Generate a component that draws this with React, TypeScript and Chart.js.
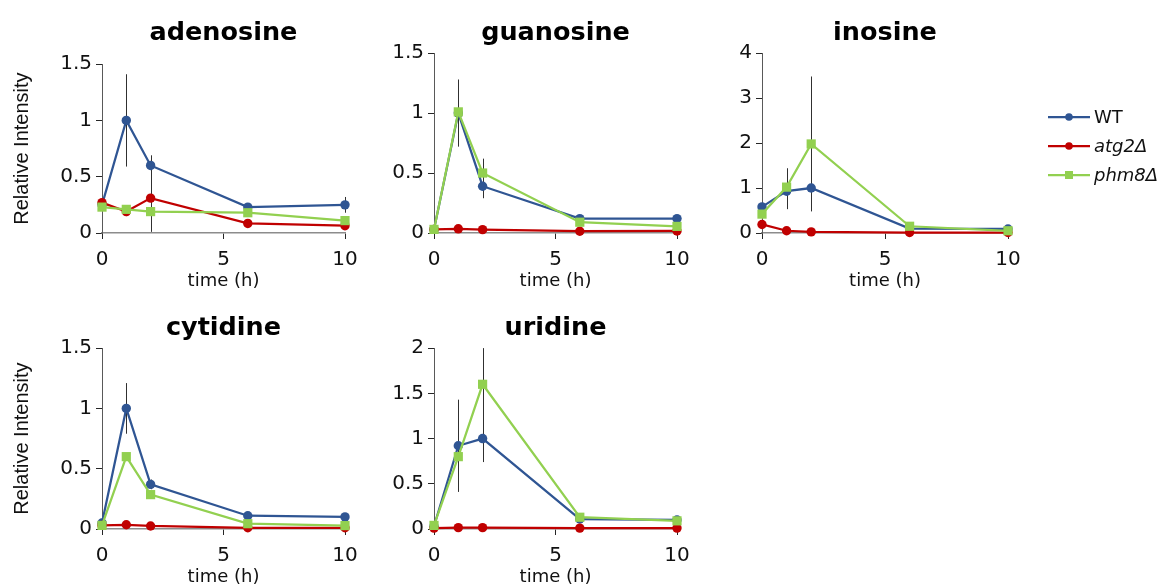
import React, { useEffect, useRef } from "react";
import { Chart, registerables } from "chart.js";

Chart.register(...registerables);

// ---------- data ----------
const TIME_H = [0, 1, 2, 6, 10];
const X_TICKS = [0, 5, 10];
const SERIES = ["WT", "atg2Δ", "phm8Δ"];

const ADENOSINE_WT = [0.25, 1.0, 0.6, 0.23, 0.25];
const ADENOSINE_WT_ERR = [0, 0.41, 0.09, 0, 0.07];
const ADENOSINE_ATG2 = [0.27, 0.19, 0.31, 0.085, 0.065];
const ADENOSINE_ATG2_ERR = [0, 0.04, 0.3, 0.02, 0];
const ADENOSINE_PHM8 = [0.23, 0.21, 0.19, 0.18, 0.11];
const ADENOSINE_PHM8_ERR = [0, 0, 0, 0, 0];
const ADENOSINE_Y_TICKS = [0, 0.5, 1, 1.5];

const GUANOSINE_WT = [0.03, 1.0, 0.39, 0.12, 0.12];
const GUANOSINE_WT_ERR = [0, 0.28, 0.1, 0, 0];
const GUANOSINE_ATG2 = [0.03, 0.035, 0.028, 0.015, 0.017];
const GUANOSINE_ATG2_ERR = [0, 0, 0, 0, 0];
const GUANOSINE_PHM8 = [0.03, 1.01, 0.5, 0.09, 0.055];
const GUANOSINE_PHM8_ERR = [0, 0.1, 0.12, 0, 0];
const GUANOSINE_Y_TICKS = [0, 0.5, 1, 1.5];

const INOSINE_WT = [0.58, 0.93, 1.0, 0.1, 0.09];
const INOSINE_WT_ERR = [0, 0.4, 0.3, 0, 0];
const INOSINE_ATG2 = [0.19, 0.05, 0.025, 0.01, 0.01];
const INOSINE_ATG2_ERR = [0, 0, 0, 0, 0];
const INOSINE_PHM8 = [0.42, 1.02, 1.98, 0.15, 0.05];
const INOSINE_PHM8_ERR = [0, 0.42, 1.5, 0.03, 0];
const INOSINE_Y_TICKS = [0, 1, 2, 3, 4];

const CYTIDINE_WT = [0.05, 1.0, 0.37, 0.11, 0.1];
const CYTIDINE_WT_ERR = [0, 0.21, 0.04, 0, 0];
const CYTIDINE_ATG2 = [0.03, 0.035, 0.025, 0.01, 0.01];
const CYTIDINE_ATG2_ERR = [0, 0, 0, 0, 0];
const CYTIDINE_PHM8 = [0.03, 0.6, 0.285, 0.044, 0.028];
const CYTIDINE_PHM8_ERR = [0, 0, 0, 0, 0];
const CYTIDINE_Y_TICKS = [0, 0.5, 1, 1.5];

const URIDINE_WT = [0.03, 0.92, 1.0, 0.11, 0.1];
const URIDINE_WT_ERR = [0, 0.51, 0.26, 0, 0];
const URIDINE_ATG2 = [0.01, 0.015, 0.015, 0.01, 0.01];
const URIDINE_ATG2_ERR = [0, 0, 0, 0, 0];
const URIDINE_PHM8 = [0.04, 0.8, 1.6, 0.13, 0.09];
const URIDINE_PHM8_ERR = [0, 0, 0.4, 0, 0];
const URIDINE_Y_TICKS = [0, 0.5, 1, 1.5, 2];

// ---------- styles ----------
const COLORS = ["#2F5593", "#C00000", "#92D050"];
const POINT_STYLES = ["circle", "circle", "rect"];
const POINT_RADII = [4.7, 4.7, 6.5];
const ITALIC = [false, true, true];
const FONT = "'DejaVu Sans', sans-serif";

type Layout = {
  left: number; top: number; width: number; height: number;
  yWidth: number; xHeight: number; padRight: number;
  titleTop: number; titleBottom: number; xTitleBottom: number;
};

type Panel = {
  title: string;
  values: number[][];
  errors: number[][];
  yTicks: number[];
  yTitle: boolean;
  legend: boolean;
  layout: Layout;
};

const PANELS: Panel[] = [
  {
    title: "adenosine",
    values: [ADENOSINE_WT, ADENOSINE_ATG2, ADENOSINE_PHM8],
    errors: [ADENOSINE_WT_ERR, ADENOSINE_ATG2_ERR, ADENOSINE_PHM8_ERR],
    yTicks: ADENOSINE_Y_TICKS, yTitle: true, legend: false,
    layout: { left: 0, top: 0, width: 375, height: 293, yWidth: 102, xHeight: 60, padRight: 30, titleTop: 18, titleBottom: 15, xTitleBottom: 1 },
  },
  {
    title: "guanosine",
    values: [GUANOSINE_WT, GUANOSINE_ATG2, GUANOSINE_PHM8],
    errors: [GUANOSINE_WT_ERR, GUANOSINE_ATG2_ERR, GUANOSINE_PHM8_ERR],
    yTicks: GUANOSINE_Y_TICKS, yTitle: false, legend: false,
    layout: { left: 380, top: 0, width: 325, height: 293, yWidth: 54, xHeight: 60, padRight: 28, titleTop: 18, titleBottom: 4, xTitleBottom: 1 },
  },
  {
    title: "inosine",
    values: [INOSINE_WT, INOSINE_ATG2, INOSINE_PHM8],
    errors: [INOSINE_WT_ERR, INOSINE_ATG2_ERR, INOSINE_PHM8_ERR],
    yTicks: INOSINE_Y_TICKS, yTitle: false, legend: true,
    layout: { left: 710, top: 0, width: 454, height: 293, yWidth: 52, xHeight: 60, padRight: 156, titleTop: 18, titleBottom: 4, xTitleBottom: 1 },
  },
  {
    title: "cytidine",
    values: [CYTIDINE_WT, CYTIDINE_ATG2, CYTIDINE_PHM8],
    errors: [CYTIDINE_WT_ERR, CYTIDINE_ATG2_ERR, CYTIDINE_PHM8_ERR],
    yTicks: CYTIDINE_Y_TICKS, yTitle: true, legend: false,
    layout: { left: 0, top: 296, width: 375, height: 294, yWidth: 102, xHeight: 61, padRight: 30, titleTop: 17, titleBottom: 4, xTitleBottom: 2 },
  },
  {
    title: "uridine",
    values: [URIDINE_WT, URIDINE_ATG2, URIDINE_PHM8],
    errors: [URIDINE_WT_ERR, URIDINE_ATG2_ERR, URIDINE_PHM8_ERR],
    yTicks: URIDINE_Y_TICKS, yTitle: false, legend: false,
    layout: { left: 380, top: 296, width: 325, height: 294, yWidth: 54, xHeight: 61, padRight: 28, titleTop: 17, titleBottom: 4, xTitleBottom: 2 },
  },
];

// ---------- plugins ----------
const errorBarPlugin = {
  id: "errorBars",
  beforeDatasetsDraw(chart: any) {
    const { ctx } = chart;
    const xs = chart.scales.x;
    const ys = chart.scales.y;
    ctx.save();
    ctx.strokeStyle = "#303030";
    ctx.lineWidth = 1;
    chart.data.datasets.forEach((ds: any) => {
      const errs: number[] = ds.errors || [];
      ds.data.forEach((pt: any, i: number) => {
        const e = errs[i];
        if (!e) return;
        const px = Math.round(xs.getPixelForValue(pt.x)) + 0.5;
        ctx.beginPath();
        ctx.moveTo(px, ys.getPixelForValue(pt.y + e));
        ctx.lineTo(px, ys.getPixelForValue(Math.max(0, pt.y - e)));
        ctx.stroke();
      });
    });
    ctx.restore();
  },
};

const sideLegendPlugin = {
  id: "sideLegend",
  afterDraw(chart: any, _args: any, opts: any) {
    if (!opts || !opts.display) return;
    const { ctx } = chart;
    ctx.save();
    chart.data.datasets.forEach((ds: any, i: number) => {
      const cy = opts.y + i * opts.spacing;
      const x0 = opts.x;
      const x1 = opts.x + opts.lineLength;
      ctx.strokeStyle = ds.borderColor;
      ctx.lineWidth = ds.borderWidth;
      ctx.beginPath();
      ctx.moveTo(x0, cy);
      ctx.lineTo(x1, cy);
      ctx.stroke();
      ctx.fillStyle = ds.pointBackgroundColor;
      const mx = (x0 + x1) / 2;
      if (ds.pointStyle === "rect") {
        ctx.fillRect(mx - 4, cy - 4, 8, 8);
      } else {
        ctx.beginPath();
        ctx.arc(mx, cy, 3.8, 0, Math.PI * 2);
        ctx.fill();
      }
      ctx.fillStyle = "#111";
      ctx.font = `${ds.italic ? "italic " : ""}18px ${FONT}`;
      ctx.textBaseline = "middle";
      ctx.textAlign = "left";
      ctx.fillText(ds.label, x1 + 4, cy + 1);
    });
    ctx.restore();
  },
};

function PanelChart({ panel }: { panel: Panel }) {
  const ref = useRef<HTMLCanvasElement | null>(null);
  const L = panel.layout;

  useEffect(() => {
    if (!ref.current) return;
    const datasets = SERIES.map((name, i) => ({
      label: name,
      data: TIME_H.map((t, j) => ({ x: t, y: panel.values[i][j] })),
      errors: panel.errors[i],
      italic: ITALIC[i],
      borderColor: COLORS[i],
      backgroundColor: COLORS[i],
      pointBackgroundColor: COLORS[i],
      pointBorderColor: COLORS[i],
      pointBorderWidth: 0,
      pointStyle: POINT_STYLES[i],
      pointRadius: POINT_RADII[i],
      borderWidth: 2.25,
      order: 3 - i,
      tension: 0,
      clip: false,
    }));

    const yMax = panel.yTicks[panel.yTicks.length - 1];
    const chart = new Chart(ref.current, {
      type: "line",
      data: { datasets } as any,
      plugins: [errorBarPlugin, sideLegendPlugin] as any,
      options: {
        animation: false,
        responsive: false,
        devicePixelRatio: 1,
        events: [],
        layout: { padding: { left: 0, top: 0, bottom: 0, right: L.padRight } },
        plugins: {
          legend: { display: false },
          tooltip: { enabled: false },
          title: {
            display: true,
            text: panel.title,
            fullSize: false,
            color: "#000",
            font: { family: FONT, size: 25.5, weight: "bold", lineHeight: 1.22 },
            padding: { top: L.titleTop, bottom: L.titleBottom },
          },
          sideLegend: { display: panel.legend, x: 338, y: 117, spacing: 29, lineLength: 42 },
        } as any,
        scales: {
          x: {
            type: "linear",
            min: X_TICKS[0],
            max: X_TICKS[X_TICKS.length - 1],
            afterBuildTicks: (s: any) => { s.ticks = X_TICKS.map((v) => ({ value: v })); },
            afterFit: (s: any) => { s.height = L.xHeight; },
            grid: { display: true, drawOnChartArea: false, drawTicks: true, tickLength: 6, color: "#262626", lineWidth: 1 },
            border: { display: true, color: "#8C8C8C", width: 1.5 },
            ticks: {
              color: "#111",
              font: { family: FONT, size: 20 },
              padding: 9,
              maxRotation: 0,
              autoSkip: false,
              callback: (v: any) => String(v),
            },
            title: {
              display: true,
              text: "time (h)",
              color: "#111",
              font: { family: FONT, size: 18 },
              padding: { top: 0, bottom: L.xTitleBottom },
            },
          },
          y: {
            type: "linear",
            min: 0,
            max: yMax,
            afterBuildTicks: (s: any) => { s.ticks = panel.yTicks.map((v) => ({ value: v })); },
            afterFit: (s: any) => { s.width = L.yWidth; },
            grid: { display: true, drawOnChartArea: false, drawTicks: true, tickLength: 6, color: "#262626", lineWidth: 1 },
            border: { display: true, color: "#595959", width: 1 },
            ticks: {
              color: "#111",
              font: { family: FONT, size: 20 },
              padding: 4,
              autoSkip: false,
              callback: (v: any) => String(v),
            },
            title: {
              display: panel.yTitle,
              text: "Relative Intensity",
              color: "#111",
              font: { family: "'Liberation Sans', Arial, sans-serif", size: 20 },
              padding: { top: 10, bottom: 0 },
            },
          },
        },
      } as any,
    });
    return () => chart.destroy();
  }, [panel]);

  return (
    <canvas
      ref={ref}
      width={L.width}
      height={L.height}
      style={{ position: "absolute", left: L.left, top: L.top, width: L.width, height: L.height }}
    />
  );
}

export default function App() {
  return (
    <div
      style={{
        position: "fixed",
        left: 0,
        top: 0,
        width: 1164,
        height: 586,
        background: "#ffffff",
        overflow: "hidden",
      }}
    >
      {PANELS.map((p) => (
        <PanelChart key={p.title} panel={p} />
      ))}
    </div>
  );
}
